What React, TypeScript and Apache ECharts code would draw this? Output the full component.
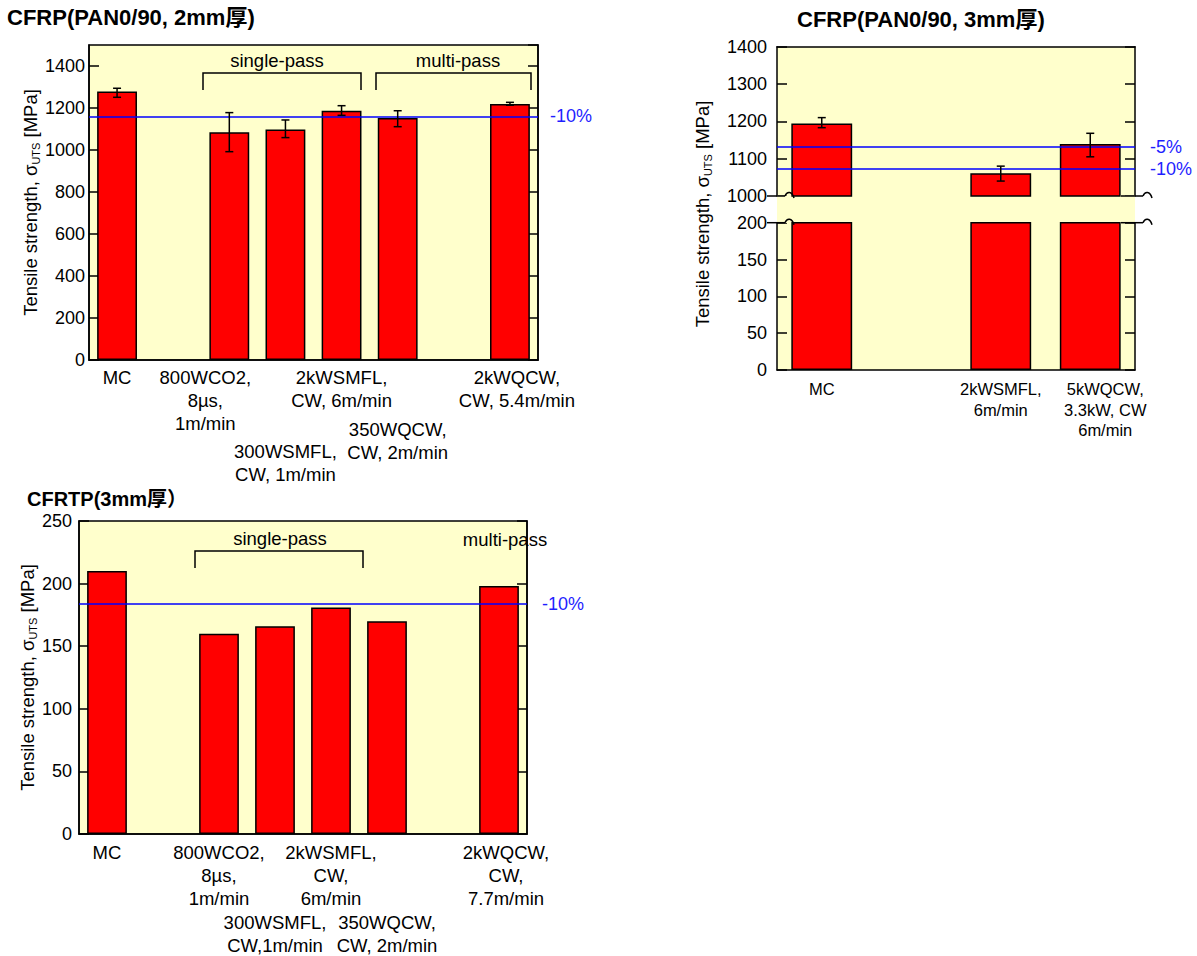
import React, { useEffect, useRef } from 'react';
import * as echarts from 'echarts';

const FONT = "'Liberation Sans', Arial, 'Noto Sans CJK JP', sans-serif";
const YELLOW = '#FFFFCC';
const RED = '#FF0000';
const BLUE = '#0000FF';

// ---------- Chart 1 : CFRP (PAN0/90, 2mm) ----------
const title1 = 'CFRP(PAN0/90, 2mm厚)';
const cats1 = ['MC', '', '800WCO2,\n8µs,\n1m/min', '300WSMFL,\nCW, 1m/min', '2kWSMFL,\nCW, 6m/min', '350WQCW,\nCW, 2m/min', '', '2kWQCW,\nCW, 5.4m/min'];
const vals1 = [1278, null, 1084, 1098, 1187, 1152, null, 1219];
const errLow1 = [1251, null, 992, 1059, 1165, 1111, null, 1213];
const errHigh1 = [1294, null, 1178, 1143, 1211, 1187, null, 1227];
const ref1 = [1160];
const refLabels1 = ['-10%'];
const yMin1 = 0, yMax1 = 1500, yStep1 = 200;

// ---------- Chart 2 : CFRP (PAN0/90, 3mm), broken axis ----------
const title2 = 'CFRP(PAN0/90, 3mm厚)';
const cats2 = ['MC', '', '2kWSMFL,\n6m/min', '5kWQCW,\n3.3kW, CW\n6m/min'];
const vals2 = [1194, null, 1061, 1139];
const errLow2 = [1183, null, 1040, 1105];
const errHigh2 = [1210, null, 1080, 1168];
const ref2 = [1131, 1073];
const refLabels2 = ['-5%', '-10%'];
const yUpperMin2 = 1000, yUpperMax2 = 1400, yUpperStep2 = 100;
const yLowerMin2 = 0, yLowerMax2 = 200, yLowerStep2 = 50;

// ---------- Chart 3 : CFRTP (3mm) ----------
const title3 = 'CFRTP(3mm厚）';
const cats3 = ['MC', '', '800WCO2,\n8µs,\n1m/min', '300WSMFL,\nCW,1m/min', '2kWSMFL,\nCW,\n6m/min', '350WQCW,\nCW, 2m/min', '', '2kWQCW,\nCW,\n7.7m/min'];
const vals3 = [210, null, 160, 166, 181, 170, null, 198];
const ref3 = [184];
const refLabels3 = ['-10%'];
const yMin3 = 0, yMax3 = 250, yStep3 = 50;

const groupSingle = 'single-pass';
const groupMulti = 'multi-pass';
const yTitleRich = '{a|Tensile strength, σ}{s|UTS}{a| [MPa]}';

// label layout tweaks (style, not data): dx = horizontal shift, dy = extra top offset
const labelShift1: any = { 2: { dx: -24 }, 3: { dy: 74 }, 5: { dy: 52 }, 7: { dx: 7 } };
const labelShift2: any = { 3: { dx: 15 } };
const labelShift3: any = { 3: { dy: 70 }, 5: { dy: 70 }, 7: { dx: 7 } };

function makeLabel(cats: string[], shifts: any, fontSize: number, lineHeight: number) {
  const rich: any = {
    t: { fontSize, lineHeight, fontFamily: FONT, color: '#000', align: 'center' },
  };
  Object.keys(shifts).forEach((k) => {
    const s = shifts[k];
    const dx = s.dx || 0;
    rich['t' + k] = {
      fontSize, lineHeight, fontFamily: FONT, color: '#000',
      padding: [0, dx < 0 ? -2 * dx : 0, 0, dx > 0 ? 2 * dx : 0],
    };
    if (s.dy) rich['sp' + k] = { fontSize: 2, lineHeight: s.dy, height: s.dy };
  });
  const formatter = (value: string, idx: number) => {
    if (!value) return '';
    const s = shifts[idx];
    const key = s ? 't' + idx : 't';
    const lines = value.split('\n').map((l) => `{${key}|${l}}`);
    if (s && s.dy) lines.unshift(`{sp${idx}| }`);
    return lines.join('\n');
  };
  return { rich, formatter };
}

function errSeries(low: any[], high: any[], xAxisIndex: number, yAxisIndex: number) {
  const data: any[] = [];
  low.forEach((l, i) => {
    if (l != null) data.push([i, l, high[i]]);
  });
  return {
    type: 'custom',
    xAxisIndex,
    yAxisIndex,
    data,
    z: 5,
    silent: true,
    encode: { x: 0, y: [1, 2] },
    renderItem: (params: any, api: any) => {
      const x = api.value(0);
      const lo = api.coord([x, api.value(1)]);
      const hi = api.coord([x, api.value(2)]);
      const w = 4;
      const style = { stroke: '#000', lineWidth: 1.5 };
      return {
        type: 'group',
        children: [
          { type: 'line', shape: { x1: lo[0], y1: lo[1], x2: hi[0], y2: hi[1] }, style },
          { type: 'line', shape: { x1: lo[0] - w, y1: lo[1], x2: lo[0] + w, y2: lo[1] }, style },
          { type: 'line', shape: { x1: hi[0] - w, y1: hi[1], x2: hi[0] + w, y2: hi[1] }, style },
        ],
      };
    },
  };
}

function markLines(values: number[], labels: string[], distance: number) {
  return {
    silent: true,
    symbol: 'none',
    animation: false,
    lineStyle: { color: BLUE, width: 1.6, type: 'solid' },
    label: { show: true, position: 'end', distance, color: '#1E1EFF', fontSize: 18, fontFamily: FONT },
    data: values.map((v, i) => ({ yAxis: v, label: { formatter: labels[i] } })),
  };
}

function barSeries(vals: any[], xAxisIndex: number, yAxisIndex: number, barWidth: string, ml?: any) {
  const s: any = {
    type: 'bar',
    xAxisIndex,
    yAxisIndex,
    data: vals,
    barWidth,
    clip: true,
    itemStyle: { color: RED, borderColor: '#000', borderWidth: 1.5 },
  };
  if (ml) s.markLine = ml;
  return s;
}

const axisLineStyle = { show: true, lineStyle: { color: '#000', width: 1.5 } };
const yLabelStyle = (margin: number) => ({
  fontSize: 18, color: '#000', fontFamily: FONT, margin,
  formatter: (v: number) => String(v),
});

function valueAxes(gridIndex: number, min: number, max: number, step: number, margin: number, name?: string, nameGap?: number) {
  const left: any = {
    type: 'value', gridIndex, position: 'left', min, max, interval: step,
    axisLine: axisLineStyle,
    axisTick: { show: true, inside: true, length: 10, lineStyle: { color: '#000', width: 1.5 } },
    axisLabel: { ...yLabelStyle(margin), showMaxLabel: max % step === 0 },
    splitLine: { show: false },
  };
  if (name) {
    left.name = name;
    left.nameLocation = 'middle';
    left.nameRotate = 90;
    left.nameGap = nameGap;
    left.nameTextStyle = {
      rich: {
        a: { fontSize: 18.5, lineHeight: 22, fontFamily: FONT, color: '#000' },
        s: { fontSize: 11, lineHeight: 12, fontFamily: FONT, color: '#000', verticalAlign: 'bottom' },
      },
    };
  }
  const right: any = {
    type: 'value', gridIndex, position: 'right', min, max, interval: step,
    axisLine: axisLineStyle,
    axisTick: { show: true, inside: true, length: 10, lineStyle: { color: '#000', width: 1.5 } },
    axisLabel: { show: false },
    splitLine: { show: false },
  };
  return [left, right];
}

function breakMark(x: number, y: number, len: number) {
  return [
    { type: 'line', z: 20, shape: { x1: x, y1: y, x2: x + len - 9, y2: y }, style: { stroke: '#000', lineWidth: 1.5 } },
    {
      type: 'bezierCurve', z: 20,
      shape: { x1: x + len - 9, y1: y, cpx1: x + len - 7, cpy1: y - 5, cpx2: x + len - 2, cpy2: y - 5, x2: x + len, y2: y + 2 },
      style: { stroke: '#000', lineWidth: 1.5, fill: 'none' },
    },
  ];
}

export default function App() {
  const ref = useRef<HTMLDivElement>(null);
  useEffect(() => {
    if (!ref.current) return;
    const chart = echarts.init(ref.current, null, { renderer: 'svg' });

    const lab1 = makeLabel(cats1, labelShift1, 18.5, 23);
    const lab2 = makeLabel(cats2, labelShift2, 16.5, 20.5);
    const lab3 = makeLabel(cats3, labelShift3, 18.5, 23);

    const [y1l, y1r] = valueAxes(0, yMin1, yMax1, yStep1, 4, yTitleRich, 40);
    const [y2ul, y2ur] = valueAxes(1, yUpperMin2, yUpperMax2, yUpperStep2, 10);
    const [y2ll, y2lr] = valueAxes(2, yLowerMin2, yLowerMax2, yLowerStep2, 10);
    const [y3l, y3r] = valueAxes(3, yMin3, yMax3, yStep3, 7, yTitleRich, 37);

    const gridBase = { show: true, backgroundColor: YELLOW, borderColor: '#000', borderWidth: 1.5, containLabel: false };
    const titleStyle = { fontSize: 22, fontWeight: 'bold', fontFamily: FONT, color: '#000' };
    const textStyle = { fontSize: 18.5, fontFamily: FONT, fill: '#000' };

    const option: any = {
      animation: false,
      backgroundColor: '#fff',
      title: [
        { text: title1, left: 7, top: 6, padding: 0, textStyle: titleStyle },
        { text: title2, left: 797, top: 8, padding: 0, textStyle: titleStyle },
        { text: title3, left: 27, top: 489, padding: 0, textStyle: { ...titleStyle, fontSize: 20 } },
      ],
      grid: [
        { ...gridBase, left: 89, top: 45, width: 449, height: 315 },
        { show: true, backgroundColor: YELLOW, borderWidth: 0, left: 777, top: 46.7, width: 358, height: 149.3 },
        { show: true, backgroundColor: YELLOW, borderWidth: 0, left: 777, top: 222.7, width: 358, height: 147.3 },
        { ...gridBase, left: 79, top: 521, width: 448, height: 313 },
      ],
      xAxis: [
        {
          type: 'category', gridIndex: 0, data: cats1,
          axisLine: { ...axisLineStyle, onZero: false }, axisTick: { show: false },
          axisLabel: { interval: 0, margin: 6, formatter: lab1.formatter, rich: lab1.rich, verticalAlign: 'top' },
        },
        {
          type: 'category', gridIndex: 1, data: cats2, position: 'top',
          axisLine: { ...axisLineStyle, onZero: false }, axisTick: { show: false }, axisLabel: { show: false },
        },
        {
          type: 'category', gridIndex: 2, data: cats2,
          axisLine: { ...axisLineStyle, onZero: false }, axisTick: { show: false },
          axisLabel: { interval: 0, margin: 9, formatter: lab2.formatter, rich: lab2.rich, verticalAlign: 'top' },
        },
        {
          type: 'category', gridIndex: 3, data: cats3,
          axisLine: { ...axisLineStyle, onZero: false }, axisTick: { show: false },
          axisLabel: { interval: 0, margin: 7, formatter: lab3.formatter, rich: lab3.rich, verticalAlign: 'top' },
        },
      ],
      yAxis: [y1l, y1r, y2ul, y2ur, y2ll, y2lr, y3l, y3r],
      series: [
        barSeries(vals1, 0, 0, '71%', markLines(ref1, refLabels1, 12)),
        errSeries(errLow1, errHigh1, 0, 0),
        barSeries(vals2, 1, 2, '68%', markLines(ref2, refLabels2, 15)),
        errSeries(errLow2, errHigh2, 1, 2),
        barSeries(vals2, 2, 4, '68%'),
        barSeries(vals3, 3, 6, '71%', markLines(ref3, refLabels3, 15)),
      ],
      graphic: [
        // chart 1 group brackets
        { type: 'polyline', z: 20, shape: { points: [[203, 90], [203, 73], [361, 73], [361, 90]] }, style: { stroke: '#000', lineWidth: 1.5, fill: 'none' } },
        { type: 'polyline', z: 20, shape: { points: [[376, 90], [376, 73], [531, 73], [531, 90]] }, style: { stroke: '#000', lineWidth: 1.5, fill: 'none' } },
        { type: 'text', z: 20, x: 277, y: 60, style: { ...textStyle, text: groupSingle, align: 'center', verticalAlign: 'middle' } },
        { type: 'text', z: 20, x: 458, y: 60, style: { ...textStyle, text: groupMulti, align: 'center', verticalAlign: 'middle' } },
        // chart 3 group bracket
        { type: 'polyline', z: 20, shape: { points: [[195, 568], [195, 551], [363, 551], [363, 568]] }, style: { stroke: '#000', lineWidth: 1.5, fill: 'none' } },
        { type: 'text', z: 20, x: 280, y: 538, style: { ...textStyle, text: groupSingle, align: 'center', verticalAlign: 'middle' } },
        { type: 'text', z: 20, x: 505, y: 539, style: { ...textStyle, text: groupMulti, align: 'center', verticalAlign: 'middle' } },
        // chart 2 gap between broken axis segments
        { type: 'rect', z: 1, shape: { x: 777, y: 195.5, width: 358, height: 27.5 }, style: { fill: YELLOW } },
        ...breakMark(767, 196, 27),
        ...breakMark(767, 222.7, 27),
        ...breakMark(1121, 196, 31),
        ...breakMark(1121, 222.7, 31),
        // chart 2 y-axis title
        {
          type: 'text', z: 20, x: 702, y: 214, rotation: Math.PI / 2,
          style: {
            text: yTitleRich, align: 'center', verticalAlign: 'middle',
            rich: {
              a: { fontSize: 18.5, lineHeight: 22, fontFamily: FONT, fill: '#000' },
              s: { fontSize: 11, lineHeight: 12, fontFamily: FONT, fill: '#000', verticalAlign: 'bottom' },
            },
          },
        },
      ],
    };
    chart.setOption(option);
    return () => chart.dispose();
  }, []);
  return <div ref={ref} style={{ position: 'absolute', left: 0, top: 0, width: 1197, height: 956 }} />;
}
